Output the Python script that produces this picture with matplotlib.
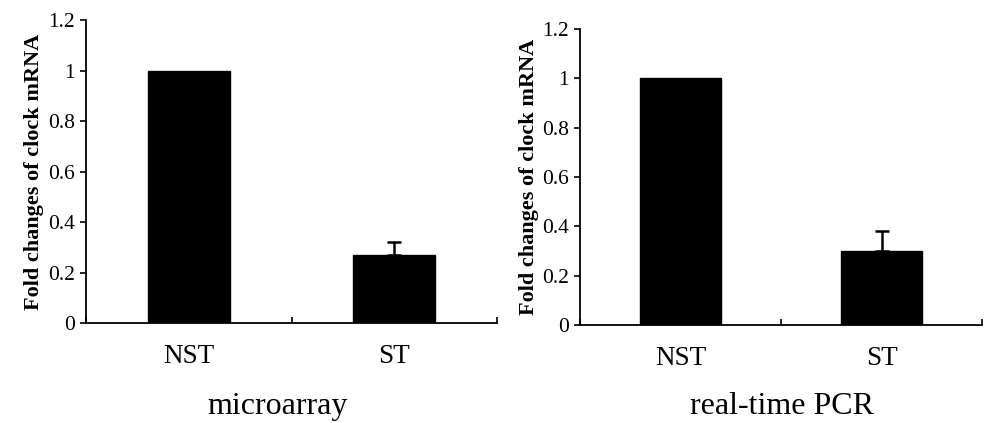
import matplotlib.pyplot as plt
from matplotlib.ticker import FixedLocator, NullFormatter

plt.rcParams['font.family'] = ['Liberation Serif', 'DejaVu Serif']

groups = ["NST", "ST"]
micro_vals = [1.0, 0.27]
micro_err = [0.0, 0.05]
pcr_vals = [1.0, 0.30]
pcr_err = [0.0, 0.08]
titles = ["microarray", "real-time PCR"]
yticks = [0, 0.2, 0.4, 0.6, 0.8, 1, 1.2]
ytick_labels = ["0", "0.2", "0.4", "0.6", "0.8", "1", "1.2"]

W, H = 989, 423
fig = plt.figure(figsize=(9.89, 4.23), dpi=100)
ax1 = fig.add_axes([0.087, 0.2364, 0.4156, 0.7163])
ax2 = fig.add_axes([0.5865, 0.2317, 0.4065, 0.6998])

# (axes, values, errors, title, ylabel right edge px, title centre px, title top px)
panels = [(ax1, micro_vals, micro_err, titles[0], 44, 278, 392),
          (ax2, pcr_vals, pcr_err, titles[1], 539, 782, 392)]

for ax, vals, err, title, ylab_x, tx, ty in panels:
    x = list(range(len(groups)))
    ax.bar(x, vals, width=0.4, color="black", edgecolor="black")
    # only the upper half of the error bar is drawn, and only where there is one
    ex = [i for i in x if err[i] > 0]
    ax.errorbar([x[i] for i in ex], [vals[i] for i in ex],
                yerr=[[0] * len(ex), [err[i] for i in ex]], fmt="none",
                ecolor="black", elinewidth=1.8, capsize=5, capthick=1.8)
    ax.set_xlim(-0.5, 1.5)
    ax.set_ylim(0, 1.2)
    ax.set_yticks(yticks)
    ax.set_yticklabels(ytick_labels, fontsize=15.5)
    ax.tick_params(axis="y", direction="out", length=4, width=1.2, pad=4)
    # separator ticks between categories, labels as minor ticks
    ax.xaxis.set_major_locator(FixedLocator([-0.5, 0.5, 1.5]))
    ax.xaxis.set_major_formatter(NullFormatter())
    ax.xaxis.set_minor_locator(FixedLocator(x))
    ax.set_xticklabels(groups, minor=True, fontsize=19.5)
    ax.tick_params(axis="x", which="major", direction="in", length=4, width=1.2)
    ax.tick_params(axis="x", which="minor", length=0, pad=15)
    for s in ["top", "right"]:
        ax.spines[s].set_visible(False)
    for s in ["left", "bottom"]:
        ax.spines[s].set_linewidth(1.3)
    pos = ax.get_position()
    ax.set_xlabel(title, fontsize=23)
    ax.xaxis.set_label_coords((tx / W - pos.x0) / pos.width,
                              ((1 - ty / H) - pos.y0) / pos.height)
    ax.set_ylabel("Fold changes of clock mRNA", fontsize=16, fontweight="bold")
    ax.yaxis.set_label_coords((ylab_x / W - pos.x0) / pos.width, 0.5)

fig.savefig("out.png", dpi=100)
